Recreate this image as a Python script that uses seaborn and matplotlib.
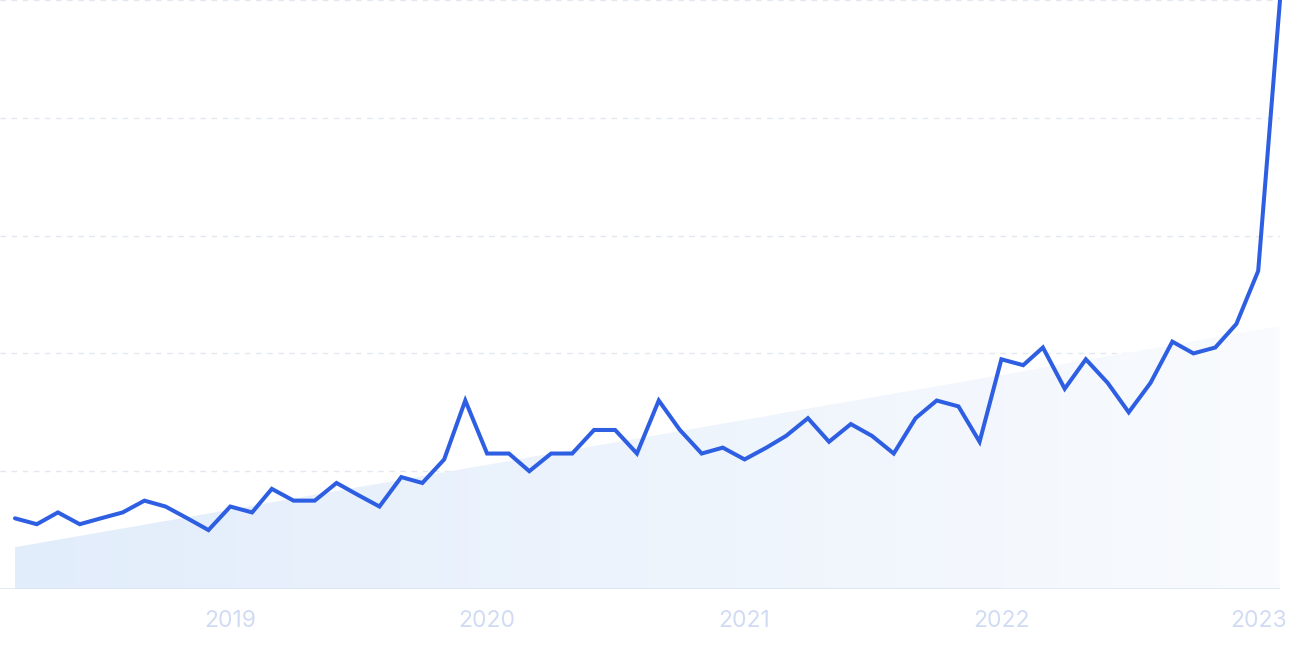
import numpy as np
import pandas as pd
import matplotlib
matplotlib.use("Agg")
import matplotlib.pyplot as plt
import matplotlib.dates as mdates
from matplotlib.colors import LinearSegmentedColormap
import seaborn as sns

# Monthly search interest (0-100), March 2018 to February 2023
months = pd.date_range("2018-03-01", "2023-02-01", freq="MS")
interest = [12, 11, 13, 11, 12, 13, 15, 14, 12, 10,
            14, 13, 17, 15, 15, 18, 16, 14, 19, 18,
            22, 32, 23, 23, 20, 23, 23, 27, 27, 23,
            32, 27, 23, 24, 22, 24, 26, 29, 25, 28,
            26, 23, 29, 32, 31, 25, 39, 38, 41, 34,
            39, 35, 30, 35, 42, 40, 41, 45, 54, 100]
# trend band: value at first and last month
trend_start = 7.1
trend_end = 44.6
year_ticks = ["2019", "2020", "2021", "2022", "2023"]

df = pd.DataFrame({"month": months, "interest": interest})

sns.set_style("white")
plt.rcParams['font.family'] = ['Inter', 'DejaVu Sans']

fig = plt.figure(figsize=(12.9, 6.45), dpi=100)
ax = fig.add_axes([0, 56 / 645, 1280 / 1290, 589 / 645])

x_num = mdates.date2num(df["month"])
x0, x1 = x_num[0], x_num[-1]
px_per_day = 1265 / (x1 - x0)
ax.set_xlim(x0 - 15 / px_per_day, x1)
ax.set_ylim(0, 100)

# trend area with gradient
trend = np.linspace(trend_start, trend_end, len(x_num))
poly = ax.fill_between(x_num, 0, trend, color="none", lw=0)
cmap = LinearSegmentedColormap.from_list("trend", ["#E2EDFB", "#F9FBFE"])
grad = np.linspace(0, 1, 256).reshape(1, -1)
img = ax.imshow(grad, cmap=cmap, aspect="auto", extent=[x0, x1, 0, trend_end],
                origin="lower", zorder=1)
img.set_clip_path(poly.get_paths()[0], transform=ax.transData)

# grid lines
for v in [20, 40, 60, 80, 100]:
    ax.axhline(v, color="#E3E8F0", lw=1, ls=(0, (4, 4)), zorder=0.5)
ax.axhline(0, color="#DCE4F5", lw=1.2, zorder=2)

sns.lineplot(data=df, x="month", y="interest", ax=ax, color="#2E5FE2",
             lw=2.9, zorder=3)
for l in ax.lines[-1:]:
    l.set_clip_on(False)
    l.set_solid_joinstyle("miter")

ax.set_xticks([mdates.date2num(pd.Timestamp(f"{y}-01-01")) for y in year_ticks])
ax.set_xticklabels(year_ticks)
ax.tick_params(axis="x", length=0, pad=15, labelsize=16.5, labelcolor="#D1DCF4")
ax.set_yticks([])
ax.set_xlabel("")
ax.set_ylabel("")
for s in ax.spines.values():
    s.set_visible(False)

fig.savefig("out.png", dpi=100)
